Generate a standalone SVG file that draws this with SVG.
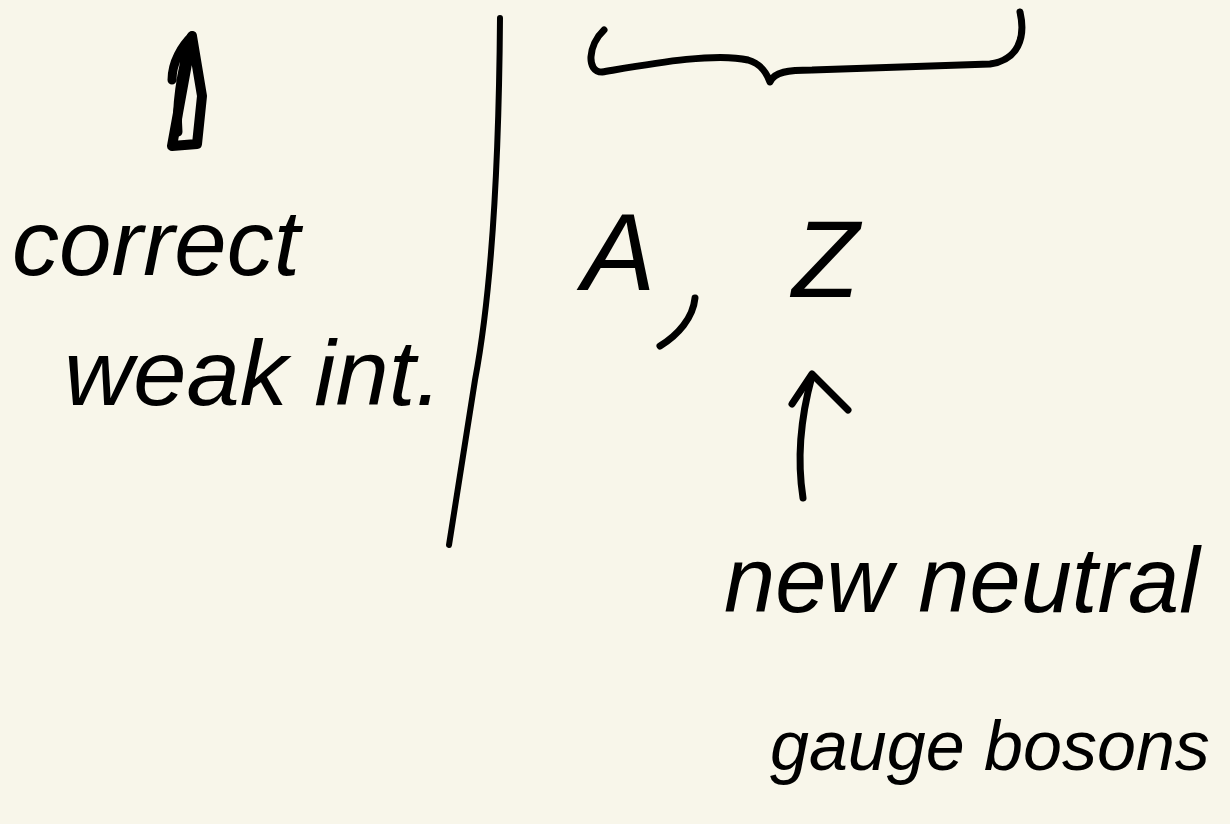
<svg xmlns="http://www.w3.org/2000/svg" width="1230" height="824" viewBox="0 0 1230 824">
<style>
.ink{fill:none;stroke:#000;stroke-linecap:round;stroke-linejoin:round}
.t{font-family:"Liberation Sans",Arial,sans-serif;font-style:italic;fill:#000}
</style>
<rect width="1230" height="824" fill="#f8f6ea"/>
<g id="divider">
<path class="ink" stroke-width="6" d="M500,18 C499,150 492,290 475,380 L449,545"/>
</g>
<g id="brace">
<path class="ink" stroke-width="7" d="M604,30 C588,45 586,72 602,72 C650,64 715,52 748,60 C762,64 767,74 770,82 C774,72 788,70 812,70 L990,64 C1018,60 1026,38 1020,12"/>
</g>
<g id="up-arrow">
<path class="ink" stroke-width="10" d="M172,146 L192,36 L202,96 L197,144 Z"/>
<path class="ink" stroke-width="9" d="M178,132 C176,110 180,72 192,36 M192,36 C182,46 172,62 172,80"/>
</g>
<g id="correct-label">
<text class="t" x="12" y="275" font-size="92" textLength="288" lengthAdjust="spacingAndGlyphs">correct</text>
<text class="t" x="64" y="405" font-size="92" textLength="378" lengthAdjust="spacingAndGlyphs">weak int.</text>
</g>
<g id="AZ">
<text class="t" x="582" y="290" font-size="110">A</text>
<path class="ink" stroke-width="7" d="M695,298 C693,318 678,335 660,346"/>
<text class="t" x="792" y="297" font-size="110">Z</text>
</g>
<g id="bosons-label">
<text class="t" x="724" y="612" font-size="92">new neutral</text>
<text class="t" x="770" y="770" font-size="70">gauge bosons</text>
</g>
<g id="connectors">
<path class="ink" stroke-width="7" d="M803,498 C797,460 800,420 812,376"/>
<path class="ink" stroke-width="7" d="M792,404 L812,374 L848,410"/>
</g>
</svg>
